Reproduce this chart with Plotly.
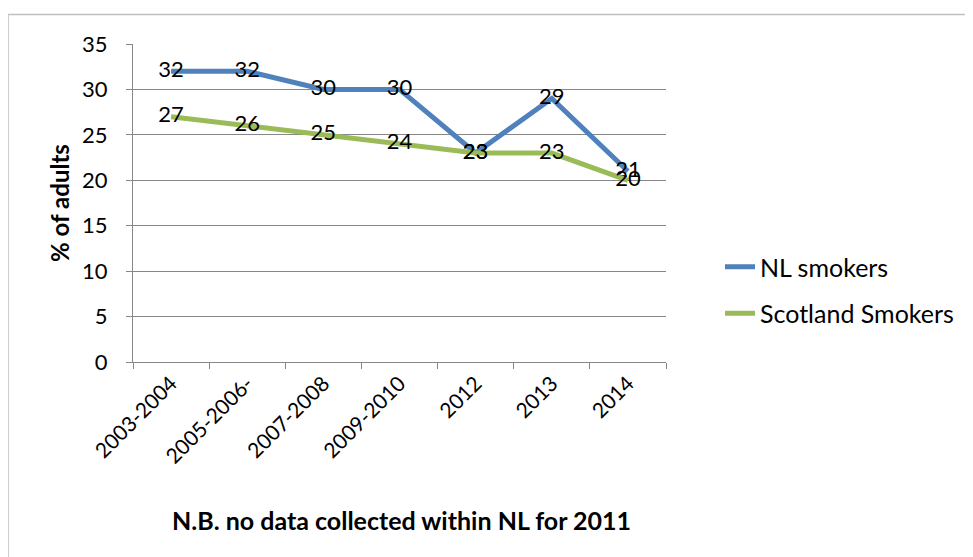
"""Smoking prevalence among adults: NL vs Scotland, line chart."""
import plotly.graph_objects as go

periods = ["2003-2004", "2005-2006-", "2007-2008", "2009-2010", "2012", "2013", "2014"]
nl_smokers = [32, 32, 30, 30, 23, 29, 21]
scotland_smokers = [27, 26, 25, 24, 23, 23, 20]

FONT = "Lato, Calibri, Carlito, sans-serif"
GRID = "#878787"

# Page is rendered with the default 8px body margin, so the figure sits at (8, 8)
OFF = 8
W, H = 973, 557
PL, PR, PT, PB = 133, 666, 44, 362


def px_x(px):
    return (px - PL) / (PR - PL)


def px_y(py):
    return (PB - py) / (PB - PT)


fig = go.Figure()

fig.add_trace(go.Scatter(
    x=periods, y=nl_smokers, name="NL smokers", legendgroup="nl",
    mode="lines+text", text=[str(v) for v in nl_smokers],
    textposition="middle center", textfont={"size": 22, "color": "black"},
    line={"color": "#4F81BD", "width": 5},
))
fig.add_trace(go.Scatter(
    x=periods, y=scotland_smokers, name="Scotland Smokers", legendgroup="sc",
    mode="lines+text", text=[str(v) for v in scotland_smokers],
    textposition="middle center", textfont={"size": 22, "color": "black"},
    line={"color": "#9BBB59", "width": 5},
))

fig.update_layout(
    width=W, height=H, autosize=False,
    margin={"l": PL - OFF, "r": W - (PR - OFF), "t": PT - OFF, "b": H - (PB - OFF)},
    paper_bgcolor="white", plot_bgcolor="white",
    font={"family": FONT, "size": 22, "color": "black"},
    showlegend=True,
    legend={
        "x": px_x(720), "y": px_y(244), "xanchor": "left", "yanchor": "top",
        "font": {"size": 25}, "traceorder": "grouped", "tracegroupgap": 11,
        "bgcolor": "rgba(0,0,0,0)",
    },
)

fig.update_xaxes(
    type="category", range=[-0.5, 6.5], tickson="boundaries",
    ticks="outside", ticklen=6, tickcolor=GRID, tickangle=-45,
    showline=True, linecolor=GRID, linewidth=1, showgrid=False,
    tickfont={"size": 21},
)
fig.update_yaxes(
    range=[0, 35], dtick=5, ticks="outside", ticklen=6, tickcolor=GRID,
    showline=True, linecolor=GRID, linewidth=1, ticklabelstandoff=14,
    showgrid=True, gridcolor=GRID, gridwidth=1, zeroline=False,
    tickfont={"size": 22},
    title={"text": "<b>% of adults</b>", "font": {"size": 24}, "standoff": 5},
)

fig.add_annotation(
    text="<b>N.B. no data collected within NL for 2011</b>",
    xref="paper", yref="paper", x=px_x(401), y=px_y(520),
    xanchor="center", yanchor="middle", showarrow=False,
    font={"size": 25, "family": FONT},
)

# Outer chart border (runs past the right and bottom edges)
fig.add_shape(
    type="rect", xref="paper", yref="paper", layer="below",
    x0=px_x(8), y0=px_y(600), x1=px_x(1000), y1=px_y(14.5),
    line={"color": "#BFBFBF", "width": 1.5}, fillcolor="rgba(0,0,0,0)",
)

fig.write_html("out.html")
